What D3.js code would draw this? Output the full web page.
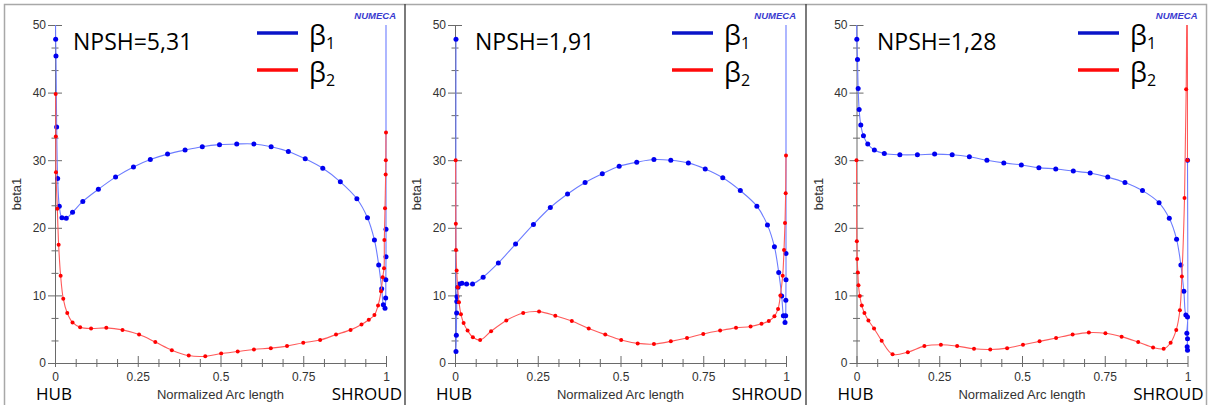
<!DOCTYPE html>
<html>
<head>
<meta charset="utf-8">
<script src="https://cdn.jsdelivr.net/npm/d3@7"></script>
<style>
  body { margin: 0; background: #fff; }
  svg { display: block; }
  .axis text { font-family: "Liberation Sans", Arial, sans-serif; font-size: 12px; fill: #333; }
  .axis line, .axis path { stroke: #6a6a6a; stroke-width: 1; }
  .lbl { font-family: "Liberation Sans", Arial, sans-serif; font-size: 13px; fill: #333; }
  .big { font-family: "Open Sans", sans-serif; fill: #000; }
  .numeca { font-family: "Liberation Sans", Arial, sans-serif; font-size: 9.5px; font-weight: bold; font-style: italic; fill: #3a3ad0; }
</style>
</head>
<body>
<script>
// ---- data ----
var titles = ['NPSH=5,31', 'NPSH=1,91', 'NPSH=1,28'];
var seriesNames = ['β', 'β'];
var seriesSubs = ['1', '2'];
var xTicks = [0, 0.25, 0.5, 0.75, 1];
var yTicks = [0, 10, 20, 30, 40, 50];

// [normalized arc length, beta]
var beta1Npsh531 = [[0,60],[0.002,47.9],[0.003,45.4],[0.005,34.9],[0.008,27.3],[0.013,23.2],[0.021,21.5],[0.034,21.4],
  [0.053,22.3],[0.084,23.9],[0.131,25.7],[0.183,27.5],[0.237,29.0],[0.288,30.1],[0.340,30.9],[0.393,31.5],[0.445,32.0],
  [0.497,32.3],[0.549,32.4],[0.601,32.4],[0.653,32.0],[0.705,31.3],[0.756,30.2],[0.809,28.8],[0.862,26.8],[0.912,24.3],
  [0.944,21.5],[0.965,18.2],[0.978,14.5],[0.987,11.0],[0.992,8.6],[0.997,8.1],[0.999,9.6],[0.9995,12.3],[1,15.7],[1,19.8],[1,60]];
var beta2Npsh531 = [[0.002,39.8],[0.0025,33.5],[0.003,28.2],[0.007,22.8],[0.011,17.5],[0.017,12.9],[0.025,9.5],[0.037,7.4],
  [0.053,6.0],[0.076,5.3],[0.109,5.1],[0.155,5.2],[0.204,4.9],[0.254,4.2],[0.303,3.1],[0.353,1.9],[0.404,1.1],[0.454,1.0],
  [0.502,1.4],[0.552,1.7],[0.601,2.0],[0.652,2.2],[0.701,2.5],[0.750,3.0],[0.801,3.4],[0.849,4.2],[0.893,4.9],[0.926,5.7],
  [0.948,6.4],[0.965,7.1],[0.976,8.5],[0.985,10.6],[0.990,12.7],[0.994,14.0],[0.995,18.2],[0.997,22.9],[0.999,27.9],[0.9995,30.0],[1,34.1]];

var beta1Npsh191 = [[0.003,47.9],[0.003,1.7],[0.004,4.1],[0.005,7.4],[0.0055,9.1],[0.006,9.8],[0.009,11.2],[0.013,11.7],
  [0.021,11.8],[0.035,11.7],[0.053,11.7],[0.085,12.7],[0.131,14.8],[0.183,17.6],[0.237,20.5],[0.288,23.0],[0.340,25.0],
  [0.393,26.7],[0.445,28.0],[0.496,29.1],[0.549,29.7],[0.601,30.1],[0.652,30.0],[0.705,29.6],[0.756,28.7],[0.809,27.4],
  [0.862,25.5],[0.912,23.2],[0.944,20.4],[0.965,17.2],[0.978,13.4],[0.987,9.9],[0.992,7.0],[0.997,6.0],[0.999,7.0],
  [0.9995,9.3],[1,12.3],[1,16.2],[1,60]];
var beta2Npsh191 = [[0.002,30.0],[0.0025,20.6],[0.003,16.7],[0.005,13.7],[0.008,11.2],[0.012,9.0],[0.018,7.2],[0.026,5.9],
  [0.038,4.8],[0.054,3.8],[0.076,3.4],[0.109,4.7],[0.155,6.3],[0.206,7.4],[0.254,7.6],[0.303,7.0],[0.353,6.2],[0.404,5.1],
  [0.454,4.2],[0.502,3.4],[0.552,2.9],[0.601,2.8],[0.652,3.2],[0.701,3.7],[0.750,4.3],[0.801,4.8],[0.849,5.2],[0.893,5.4],
  [0.926,5.8],[0.948,6.2],[0.965,6.9],[0.976,8.0],[0.983,10.0],[0.990,12.9],[0.994,16.7],[0.997,20.7],[0.999,25.1],[1,30.7]];

var beta1Npsh128 = [[0,60],[0.001,47.9],[0.003,44.9],[0.005,40.6],[0.008,37.5],[0.013,35.2],[0.021,33.6],[0.034,32.4],
  [0.054,31.5],[0.084,31.0],[0.131,30.8],[0.184,30.8],[0.236,30.9],[0.289,30.8],[0.341,30.5],[0.394,30.0],[0.445,29.6],
  [0.498,29.3],[0.551,28.9],[0.602,28.7],[0.655,28.4],[0.706,28.1],[0.759,27.5],[0.811,26.7],[0.864,25.5],[0.914,23.7],
  [0.945,21.4],[0.967,18.3],[0.980,14.5],[0.989,10.6],[0.995,7.1],[1,6.8],[0.998,4.4],[1,3.6],[0.999,2.4],[1,1.9],[1,30]];
var beta2Npsh128 = [[0,30.0],[0.001,18.0],[0.002,15.4],[0.004,13.4],[0.006,11.5],[0.010,9.9],[0.016,8.5],[0.024,7.4],
  [0.036,6.3],[0.053,5.1],[0.076,3.3],[0.109,1.3],[0.155,1.6],[0.205,2.5],[0.255,2.7],[0.304,2.5],[0.355,2.1],[0.404,2.0],
  [0.455,2.2],[0.503,2.7],[0.553,3.2],[0.603,3.7],[0.653,4.2],[0.702,4.5],[0.752,4.4],[0.801,3.9],[0.851,3.1],[0.896,2.3],
  [0.928,2.1],[0.949,3.0],[0.966,4.9],[0.977,7.8],[0.983,12.8],[0.991,24.4],[0.996,40.5],[0.999,60],[1,30]];

var beta1Sets = [beta1Npsh531, beta1Npsh191, beta1Npsh128];
var beta2Sets = [beta2Npsh531, beta2Npsh191, beta2Npsh128];

(function() {
    var w = 1209, h = 405;
    // panel placement (left edge of x axis, legend offset, title offset)
    var panelX = [55, 455, 856.5],
        legendOff = [202, 217, 221.5],
        titleOff = [18, 20, 20.5],
        plotW = 331,
        yTop = 25, yBot = 363;

    var lineCol = ['#6c7cff', '#ff5a5a'],
        dotCol = ['#0000f0', '#ff0000'],
        legCol = ['#0a14c8', '#ff0a0a'],
        dotR = [2.5, 2];

    var svg = d3.select('body').append('svg')
        .attr('width', w)
        .attr('height', h);
    svg.append('rect').attr('width', w).attr('height', h).attr('fill', '#fff');

    // frame
    svg.append('rect')
        .attr('x', 4.5).attr('y', 4.5)
        .attr('width', 1202).attr('height', 402)
        .attr('fill', 'none').attr('stroke', '#a8a8a8').attr('stroke-width', 1.5);
    [405, 806].forEach(function(x) {
        svg.append('line')
            .attr('x1', x).attr('x2', x).attr('y1', 4).attr('y2', h)
            .attr('stroke', '#444').attr('stroke-width', 1.4);
    });

    var minorY = d3.range(0, 50.01, 10 / 3).filter(function(v) { return Math.abs(v / 10 - Math.round(v / 10)) > 0.01; });
    var minorX = d3.range(0, 1.0001, 0.0625).filter(function(v) { return Math.abs(v / 0.25 - Math.round(v / 0.25)) > 0.01; });

    titles.forEach(function(title, i) {
        var x0 = panelX[i];
        var x = d3.scaleLinear().domain([0, 1]).range([x0, x0 + plotW]);
        var y = d3.scaleLinear().domain([0, 50]).range([yBot, yTop]);
        var g = svg.append('g');

        // y axis, ticks crossing the line
        var ya = g.append('g').attr('class', 'axis')
            .attr('transform', 'translate(' + x0 + ',0)')
            .call(d3.axisLeft(y).tickValues(yTicks).tickSize(7).tickSizeOuter(0).tickPadding(2));
        ya.selectAll('.tick line').attr('x1', 7);
        var ym = g.append('g').attr('class', 'axis')
            .attr('transform', 'translate(' + x0 + ',0)')
            .call(d3.axisLeft(y).tickValues(minorY).tickSize(3.5).tickSizeOuter(0).tickFormat(''));
        ym.selectAll('.tick line').attr('x1', 3.5);
        ym.select('.domain').remove();

        // x axis
        var xa = g.append('g').attr('class', 'axis')
            .attr('transform', 'translate(0,' + yBot + ')')
            .call(d3.axisBottom(x).tickValues(xTicks).tickSize(4).tickSizeOuter(0).tickPadding(5)
                .tickFormat(function(d) { return String(d); }));
        xa.selectAll('.tick line').attr('y1', -7);
        var xm = g.append('g').attr('class', 'axis')
            .attr('transform', 'translate(0,' + yBot + ')')
            .call(d3.axisBottom(x).tickValues(minorX).tickSize(4).tickSizeOuter(0).tickFormat(''));
        xm.selectAll('.tick line').attr('y1', -4);
        xm.select('.domain').remove();

        g.append('text').attr('class', 'lbl')
            .attr('transform', 'translate(' + (x0 - 34) + ',' + ((yTop + yBot) / 2) + ') rotate(-90)')
            .attr('text-anchor', 'middle')
            .text('beta1');
        g.append('text').attr('class', 'lbl')
            .attr('x', x(0.5)).attr('y', 399)
            .attr('text-anchor', 'middle')
            .text('Normalized Arc length');
        g.append('text').attr('class', 'big')
            .attr('x', x(0) - 19).attr('y', 400)
            .style('font-size', '17px')
            .text('HUB');
        g.append('text').attr('class', 'big')
            .attr('x', x(1) + 16).attr('y', 400)
            .attr('text-anchor', 'end')
            .style('font-size', '17px')
            .text('SHROUD');
        g.append('text').attr('class', 'numeca')
            .attr('x', x(1) + 10).attr('y', 18.5)
            .attr('text-anchor', 'end')
            .text('NUMECA');

        // data, clipped at the plot frame
        var clipId = 'clip' + i;
        svg.append('clipPath').attr('id', clipId)
            .append('rect')
            .attr('x', x0 - 10).attr('y', y(50))
            .attr('width', plotW + 20).attr('height', yBot - y(50) + 10);
        var data = g.append('g').attr('clip-path', 'url(#' + clipId + ')');
        var line = d3.line()
            .x(function(d) { return x(d[0]); })
            .y(function(d) { return y(d[1]); })
            .curve(d3.curveCatmullRom.alpha(0.5));
        [beta1Sets[i], beta2Sets[i]].forEach(function(s, k) {
            data.append('path')
                .datum(s)
                .attr('d', line)
                .attr('fill', 'none')
                .attr('stroke', lineCol[k])
                .attr('stroke-width', 1.1);
            data.selectAll('.dot' + k)
                .data(s)
                .enter()
                .append('circle')
                .attr('class', 'dot' + k)
                .attr('cx', function(d) { return x(d[0]); })
                .attr('cy', function(d) { return y(d[1]); })
                .attr('r', dotR[k])
                .attr('fill', dotCol[k]);
        });

        // title and legend
        g.append('text').attr('class', 'big')
            .attr('x', x0 + titleOff[i]).attr('y', 50)
            .style('font-size', '23px')
            .text(title);
        seriesNames.forEach(function(name, k) {
            var ly = 33 + k * 37,
                lx = x0 + legendOff[i];
            g.append('line')
                .attr('x1', lx).attr('x2', lx + 41)
                .attr('y1', ly).attr('y2', ly)
                .attr('stroke', legCol[k]).attr('stroke-width', 3.5);
            var t = g.append('text').attr('class', 'big')
                .attr('x', lx + 52).attr('y', ly + 12)
                .style('font-size', '27px');
            t.append('tspan').text(name);
            t.append('tspan').attr('dy', 4).style('font-size', '16px').text(seriesSubs[k]);
        });
    });
})();
</script>
</body>
</html>
